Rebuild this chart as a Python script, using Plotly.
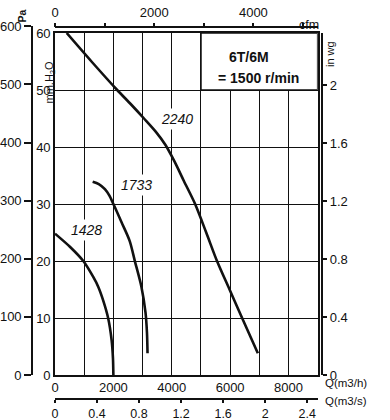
import plotly.graph_objects as go

# ---------------- data ----------------
# Q in m3/h, pressure in mm H2O
q1428 = [0, 510, 970, 1310, 1480, 1650, 1820, 1940, 1985, 2000]
p1428 = [24.8, 22.5, 20.0, 17.2, 15.5, 13.1, 10.0, 6.1, 3.0, 0.0]

q1733 = [1290, 1500, 1710, 1860, 2000, 2280, 2560, 2740, 2960, 3100, 3150, 3170]
p1733 = [33.9, 33.5, 32.6, 31.5, 30.0, 26.8, 23.5, 19.9, 15.5, 11.0, 7.5, 3.8]

q2240 = [400, 1250, 2130, 2600, 3050, 3450, 3780, 4080, 4420, 4800, 5180, 5550, 5980, 6410, 6950]
p2240 = [60, 55, 50, 47.5, 45, 42.7, 40.4, 37.6, 34.0, 30, 25, 20, 15, 10, 3.8]

curve_names = ["1428", "1733", "2240"]

q_ticks = [0, 1000, 2000, 3000, 4000, 5000, 6000, 7000, 8000, 9000]
q_labels = ["0", " ", "2000", " ", "4000", " ", "6000", " ", "8000", " "]
mm_ticks = [0, 10, 20, 30, 40, 50, 60]
pa_ticks = [0, 100, 200, 300, 400, 500, 600]
inwg_ticks = [0, 0.4, 0.8, 1.2, 1.6, 2.0]
inwg_labels = ["0", "0.4", "0.8", "1.2", "1.6", "2"]
cfm_ticks = [0, 1000, 2000, 3000, 4000, 5000]
cfm_labels = ["0", " ", "2000", " ", "4000", " "]
m3s_ticks = [0, 0.4, 0.8, 1.2, 1.6, 2.0, 2.4]
m3s_labels = ["0", "0.4", "0.8", "1.2", "1.6", "2", "2.4"]

title_lines = ["6T/6M", "= 1500 r/min"]

# unit conversions
PA_PER_MM = 9.81
MM_PER_INWG = 25.4
M3H_PER_CFM = 1.699
M3H_PER_M3S = 3600.0

Q_MAX = 9000
MM_MAX = 60

# ---------------- layout geometry ----------------
W, H = 390, 420
def px(x):
    return x / W
def py(y):
    return 1 - y / H

L, R, T, B = 55, 317.7, 33, 375
mm_px = (B - T) / MM_MAX
pa_top = B - (max(pa_ticks) / PA_PER_MM) * mm_px

FONT = "Liberation Sans, Arial, sans-serif"
INK = "#111111"

fig = go.Figure()

curve_style = dict(color=INK, width=2.6)
for q, p in [(q1428, p1428), (q1733, p1733), (q2240, p2240)]:
    fig.add_trace(go.Scatter(x=q, y=p, mode="lines",
                             line=dict(shape="spline", smoothing=0.8, **curve_style),
                             hoverinfo="skip", showlegend=False))

inv = dict(mode="markers", marker=dict(opacity=0, size=1), hoverinfo="skip", showlegend=False)
# auxiliary axes
fig.add_trace(go.Scatter(x=[0, Q_MAX / M3H_PER_CFM], y=[0, 0], xaxis="x2", yaxis="y", **inv))
fig.add_trace(go.Scatter(x=[0, Q_MAX / M3H_PER_M3S], y=[0, 0], xaxis="x3", yaxis="y", **inv))
fig.add_trace(go.Scatter(x=[0, 0], y=[0, MM_MAX / MM_PER_INWG], xaxis="x", yaxis="y3", **inv))
fig.add_trace(go.Scatter(x=[0, 1], y=[0, max(pa_ticks)], xaxis="x4", yaxis="y2", **inv))

tickfont = dict(family=FONT, size=13, color=INK)
smallfont = dict(family=FONT, size=12.5, color=INK)
common_line = dict(showline=True, linecolor=INK, linewidth=1.6, zeroline=False, automargin=False)

fig.update_layout(
    template="none",
    width=W, height=H,
    margin=dict(l=0, r=0, t=0, b=0, pad=0, autoexpand=False),
    paper_bgcolor="white", plot_bgcolor="white",
    showlegend=False,
    font=dict(family=FONT, color=INK),
    xaxis=dict(domain=[px(L), px(R)], range=[0, Q_MAX], tickvals=q_ticks, ticktext=q_labels,
               showgrid=True, gridcolor=INK, gridwidth=1.3, mirror=True, ticks="",
               tickfont=tickfont, anchor="y", **common_line),
    yaxis=dict(domain=[py(B), py(T)], range=[0, MM_MAX], tickvals=mm_ticks,
               showgrid=True, gridcolor=INK, gridwidth=1.3, mirror=True, ticks="",
               tickfont=tickfont, anchor="x", **common_line),
    yaxis2=dict(domain=[py(B), py(pa_top)], range=[0, max(pa_ticks)], tickvals=pa_ticks,
                anchor="free", position=px(32), side="left", ticks="outside", ticklen=7,
                tickwidth=1.5, tickcolor=INK, showgrid=False, tickfont=tickfont, **common_line),
    xaxis4=dict(domain=[0, 0.02], range=[0, 1], visible=False, anchor="y2"),
    yaxis3=dict(overlaying="y", anchor="free", position=px(322.3), side="right",
                range=[0, MM_MAX / MM_PER_INWG], tickvals=inwg_ticks, ticktext=inwg_labels,
                ticks="outside", ticklen=4, tickwidth=1.5, tickcolor=INK, showgrid=False,
                tickfont=tickfont, **common_line),
    xaxis2=dict(overlaying="x", anchor="free", position=py(27.3), side="top",
                range=[0, Q_MAX / M3H_PER_CFM], tickvals=cfm_ticks, ticktext=cfm_labels,
                ticks="outside", ticklen=4, tickwidth=1.5, tickcolor=INK, showgrid=False,
                tickfont=tickfont, **common_line),
    xaxis3=dict(overlaying="x", anchor="free", position=py(399), side="bottom",
                range=[0, Q_MAX / M3H_PER_M3S], tickvals=m3s_ticks, ticktext=m3s_labels,
                ticks="outside", ticklen=3, tickwidth=1.5, tickcolor=INK, showgrid=False,
                tickfont=smallfont, **common_line),
)

# white box with speed info
fig.add_shape(type="rect", xref="x", yref="y", x0=5000, x1=Q_MAX, y0=50, y1=MM_MAX,
              fillcolor="white", line=dict(color=INK, width=1.6), layer="above")

ann = []
ann.append(dict(text="<b>%s</b>" % title_lines[0], x=px(249), y=py(47)))
ann.append(dict(text="<b>%s</b>" % title_lines[1], x=px(258.5), y=py(68)))
for a in ann:
    a.update(xref="paper", yref="paper", showarrow=False, font=dict(size=14, family=FONT, color=INK))
    fig.add_annotation(**a)

# curve labels
label_pos = [(1094, 25.4), (2803, 33.3), (4171, 44.9)]
for name, (lx, ly) in zip(curve_names, label_pos):
    fig.add_annotation(x=lx, y=ly, xref="x", yref="y", text="<i>%s</i>" % name, showarrow=False,
                       bgcolor="white", borderpad=2, font=dict(size=14, family=FONT, color=INK))

side_texts = [
    ("<b>Pa</b>", 13, 8, -90, 10.5),
    ("mm.H<sub>2</sub>O", 41, 59, -90, 11),
    ("in wg", 338, 39, -90, 11),
    ("cfm", 321, 16, 0, 12.5),
    ("Q(m3/h)", 369, 391, 0, 11.5),
    ("Q(m3/s)", 369, 409, 0, 11.5),
]
for t, x, y, ang, sz in side_texts:
    fig.add_annotation(text=t, x=px(x), y=py(y), xref="paper", yref="paper", showarrow=False,
                       textangle=ang, font=dict(size=sz, family=FONT, color=INK))

fig.write_html("out.html", config={"displayModeBar": False},
               post_script="document.body.style.margin='0';document.body.style.overflow='hidden';")
